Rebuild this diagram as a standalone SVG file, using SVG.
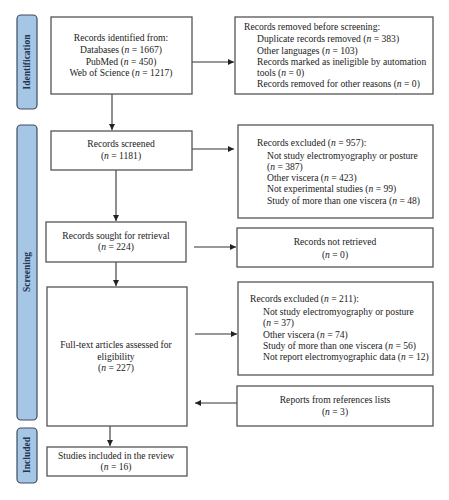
<svg xmlns="http://www.w3.org/2000/svg" width="449" height="500" viewBox="0 0 449 500">
<defs>
<marker id="ah" viewBox="0 0 10 10" refX="10" refY="5" markerWidth="6" markerHeight="6" markerUnits="userSpaceOnUse" orient="auto"><path d="M0,0 L10,5 L0,10 z" fill="#222"/></marker>
<style>
.box{fill:#fff;stroke:#555;stroke-width:1.3}
.bar{fill:#a6c6e6;stroke:#3d4d5e;stroke-width:1.2}
.t{font-family:"Liberation Serif",serif;font-size:9.6px;fill:#222}
.c{text-anchor:middle}
.bt{font-family:"Liberation Serif",serif;font-size:9.5px;fill:#1f3552;text-anchor:middle;font-weight:bold}
.ln{stroke:#333;stroke-width:1.1;fill:none}
</style>
</defs>
<rect width="449" height="500" fill="#fff"/>
<g id="bar-identification"><rect class="bar" x="17" y="15" width="20" height="94" rx="4"/><text class="bt" transform="translate(30,62) rotate(-90)">Identification</text></g>
<g id="bar-screening"><rect class="bar" x="17" y="125" width="20" height="295" rx="4"/><text class="bt" transform="translate(30,272) rotate(-90)">Screening</text></g>
<g id="bar-included"><rect class="bar" x="17" y="428" width="20" height="55" rx="4"/><text class="bt" transform="translate(30,455) rotate(-90)">Included</text></g>
<g id="connectors">
<path class="ln" d="M192,62 H234" marker-end="url(#ah)"/>
<path class="ln" d="M112,94 V130" marker-end="url(#ah)"/>
<path class="ln" d="M192,149 H234" marker-end="url(#ah)"/>
<path class="ln" d="M116,170 V221" marker-end="url(#ah)"/>
<path class="ln" d="M194,247 H236" marker-end="url(#ah)"/>
<path class="ln" d="M116,262 V286" marker-end="url(#ah)"/>
<path class="ln" d="M195,334 H237" marker-end="url(#ah)"/>
<path class="ln" d="M237,403 H195" marker-end="url(#ah)"/>
<path class="ln" d="M110,426 V446" marker-end="url(#ah)"/>
</g>
<g id="identified"><rect class="box" x="51" y="17" width="141" height="77"/>
<text class="t c" x="121" y="41">Records identified from:</text>
<text class="t c" x="121" y="53">Databases (<tspan font-style="italic">n</tspan> = 1667)</text>
<text class="t c" x="121" y="65">PubMed (<tspan font-style="italic">n</tspan> = 450)</text>
<text class="t c" x="121" y="76">Web of Science (<tspan font-style="italic">n</tspan> = 1217)</text></g>
<g id="removed"><rect class="box" x="235" y="17" width="198" height="77"/>
<text class="t" x="244" y="30">Records removed before screening:</text>
<text class="t" x="257" y="42">Duplicate records removed (<tspan font-style="italic">n</tspan> = 383)</text>
<text class="t" x="257" y="54">Other languages (<tspan font-style="italic">n</tspan> = 103)</text>
<text class="t" x="257" y="65">Records marked as ineligible by automation</text>
<text class="t" x="257" y="76">tools (<tspan font-style="italic">n</tspan> = 0)</text>
<text class="t" x="257" y="87">Records removed for other reasons (<tspan font-style="italic">n</tspan> = 0)</text></g>
<g id="screened"><rect class="box" x="51" y="131" width="141" height="39"/>
<text class="t c" x="121" y="147">Records screened</text>
<text class="t c" x="121" y="159">(<tspan font-style="italic">n</tspan> = 1181)</text></g>
<g id="excluded1"><rect class="box" x="238" y="125" width="195" height="93"/>
<text class="t" x="257" y="146">Records excluded (<tspan font-style="italic">n</tspan> = 957):</text>
<text class="t" x="267" y="159">Not study electromyography or posture</text>
<text class="t" x="267" y="170">(<tspan font-style="italic">n</tspan> = 387)</text>
<text class="t" x="267" y="181">Other viscera (<tspan font-style="italic">n</tspan> = 423)</text>
<text class="t" x="267" y="192">Not experimental studies (<tspan font-style="italic">n</tspan> = 99)</text>
<text class="t" x="267" y="204">Study of more than one viscera (<tspan font-style="italic">n</tspan> = 48)</text></g>
<g id="sought"><rect class="box" x="46" y="222" width="140" height="40"/>
<text class="t c" x="116" y="239">Records sought for retrieval</text>
<text class="t c" x="116" y="250">(<tspan font-style="italic">n</tspan> = 224)</text></g>
<g id="notretrieved"><rect class="box" x="237" y="228" width="196" height="39"/>
<text class="t c" x="335" y="245">Records not retrieved</text>
<text class="t c" x="335" y="258">(<tspan font-style="italic">n</tspan> = 0)</text></g>
<g id="fulltext"><rect class="box" x="47" y="287" width="140" height="139"/>
<text class="t c" x="116" y="348">Full-text articles assessed for</text>
<text class="t c" x="116" y="360">eligibility</text>
<text class="t c" x="116" y="371">(<tspan font-style="italic">n</tspan> = 227)</text></g>
<g id="excluded2"><rect class="box" x="238" y="282" width="195" height="93"/>
<text class="t" x="250" y="302">Records excluded (<tspan font-style="italic">n</tspan> = 211):</text>
<text class="t" x="263" y="315">Not study electromyography or posture</text>
<text class="t" x="263" y="326">(<tspan font-style="italic">n</tspan> = 37)</text>
<text class="t" x="263" y="338">Other viscera (<tspan font-style="italic">n</tspan> = 74)</text>
<text class="t" x="263" y="349">Study of more than one viscera (<tspan font-style="italic">n</tspan> = 56)</text>
<text class="t" x="263" y="360">Not report electromyographic data (<tspan font-style="italic">n</tspan> = 12)</text></g>
<g id="references"><rect class="box" x="237" y="386" width="196" height="40"/>
<text class="t c" x="335" y="403">Reports from references lists</text>
<text class="t c" x="335" y="415">(<tspan font-style="italic">n</tspan> = 3)</text></g>
<g id="included"><rect class="box" x="47" y="447" width="140" height="29"/>
<text class="t c" x="116" y="459">Studies included in the review</text>
<text class="t c" x="116" y="470">(<tspan font-style="italic">n</tspan> = 16)</text></g>
</svg>
